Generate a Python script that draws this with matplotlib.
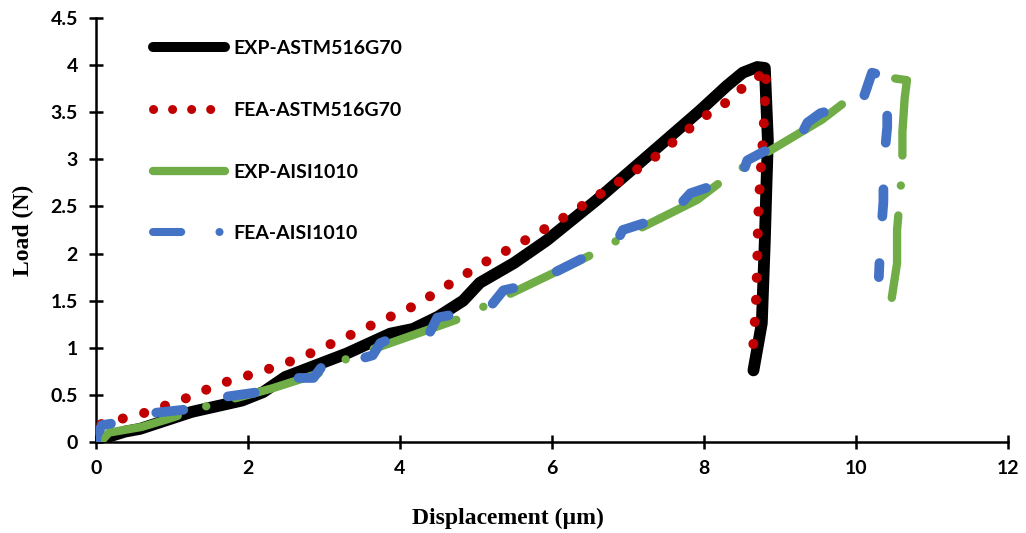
import numpy as np
import matplotlib as mpl
mpl.use("Agg")
import matplotlib.pyplot as plt
from matplotlib.lines import Line2D

# load-displacement curves (displacement in um, load in N)
exp_astm_x = [0.0, 0.1, 0.38, 0.58, 1.26, 1.92, 2.2, 2.49, 3.3, 3.87, 4.17,
              4.5, 4.83, 5.05, 5.5, 5.93, 6.59, 7.25, 7.95, 8.3, 8.51, 8.7,
              8.8, 8.84, 8.82, 8.8, 8.76, 8.65]
exp_astm_y = [0.0, 0.04, 0.11, 0.14, 0.32, 0.44, 0.53, 0.69, 0.94, 1.15, 1.2,
              1.33, 1.5, 1.69, 1.9, 2.14, 2.57, 3.03, 3.52, 3.78, 3.92, 3.98,
              3.97, 3.2, 2.7, 2.14, 1.26, 0.76]

fea_astm_x = [0.07, 0.64, 1.17, 1.64, 2.18, 2.68, 3.17, 3.68, 4.2, 4.66, 5.12,
              5.58, 6.07, 6.5, 6.93, 7.38, 7.99, 8.24, 8.38, 8.64, 8.82, 8.81,
              8.78, 8.74, 8.71, 8.7, 8.68, 8.64]
fea_astm_y = [0.19, 0.31, 0.46, 0.62, 0.75, 0.89, 1.07, 1.26, 1.45, 1.68, 1.91,
              2.11, 2.34, 2.56, 2.79, 3.04, 3.45, 3.56, 3.7, 3.81, 3.97, 3.74,
              3.28, 2.81, 2.36, 1.9, 1.43, 0.93]

exp_aisi_x = [0.0, 0.08, 0.17, 0.6, 0.97, 1.49, 2.32, 2.9, 3.34, 4.26, 4.75,
              5.21, 6.01, 6.55, 6.99, 7.91, 8.3, 8.78, 9.55, 9.89, 10.29, 10.5,
              10.67, 10.64, 10.61, 10.61, 10.54, 10.54, 10.47]
exp_aisi_y = [0.0, 0.02, 0.1, 0.16, 0.25, 0.39, 0.57, 0.72, 0.9, 1.16, 1.3,
              1.48, 1.79, 2.0, 2.2, 2.57, 2.81, 3.05, 3.42, 3.63, 3.82, 3.86,
              3.84, 3.65, 3.29, 2.92, 2.25, 1.9, 1.53]

fea_aisi_x = [0.0, 0.01, 0.08, 0.32, 0.78, 1.24, 1.7, 2.14, 2.59, 2.86, 2.99,
              3.51, 3.64, 3.74, 3.83, 4.39, 4.49, 4.68, 5.18, 5.36, 5.58, 6.01,
              6.43, 6.86, 6.93, 7.2, 7.64, 7.82, 8.04, 8.5, 8.57, 8.78, 9.26,
              9.36, 9.53, 10.08, 10.21, 10.3, 10.41, 10.41, 10.36, 10.36,
              10.32, 10.3]
fea_aisi_y = [0.0, 0.07, 0.18, 0.21, 0.31, 0.35, 0.48, 0.53, 0.68, 0.68, 0.82,
              0.89, 0.92, 1.05, 1.08, 1.16, 1.32, 1.35, 1.43, 1.61, 1.65, 1.79,
              1.96, 2.14, 2.25, 2.32, 2.48, 2.64, 2.7, 2.83, 2.99, 3.08, 3.23,
              3.39, 3.49, 3.61, 3.92, 3.9, 3.72, 3.34, 2.92, 2.55, 2.12, 1.75]

labels = ['EXP-ASTM516G70', 'FEA-ASTM516G70', 'EXP-AISI1010', 'FEA-AISI1010']

x_ticks = [0, 2, 4, 6, 8, 10, 12]
y_ticks = [0, 0.5, 1, 1.5, 2, 2.5, 3, 3.5, 4, 4.5]
y_tick_labels = ['0', '0.5', '1', '1.5', '2', '2.5', '3', '3.5', '4', '4.5']

black = '#000000'
red = '#C00000'
green = '#70AD47'
blue = '#4472C4'

tick_font = {'family': 'Lato', 'weight': 'bold', 'size': 14}
label_font = {'family': 'Liberation Serif', 'weight': 'bold', 'size': 17}

fig = plt.figure(figsize=(10.26, 5.33), dpi=100)
ax = fig.add_axes([0.0936, 0.1707, 0.8889, 0.7955])

ax.plot(exp_astm_x, exp_astm_y, color=black, lw=8.5,
        solid_capstyle='round', solid_joinstyle='round', zorder=2)
ax.plot(fea_astm_x, fea_astm_y, color=red, lw=7.2,
        linestyle=(0, (0.01, 2.2)), dash_capstyle='round', zorder=3)
ax.plot(exp_aisi_x, exp_aisi_y, color=green, lw=6.0,
        linestyle=(0, (10.5, 3.6, 0.01, 3.6)), dash_capstyle='round',
        dash_joinstyle='round', zorder=4)
ax.plot(fea_aisi_x, fea_aisi_y, color=blue, lw=7.0,
        linestyle=(0, (2.8, 4.8)), dash_capstyle='round',
        dash_joinstyle='round', zorder=5)

ax.set_xlim(0, 12)
ax.set_ylim(0, 4.5)
ax.set_xticks(x_ticks)
ax.set_xticklabels([str(t) for t in x_ticks], fontdict=tick_font)
ax.set_yticks(y_ticks)
ax.set_yticklabels(y_tick_labels, fontdict=tick_font)

for side in ['top', 'right']:
    ax.spines[side].set_visible(False)
for side in ['left', 'bottom']:
    ax.spines[side].set_linewidth(1.8)
ax.tick_params(direction='inout', length=10, width=1.8)
ax.tick_params(axis='x', pad=8)
ax.tick_params(axis='y', pad=8)

ax.set_xlabel('Displacement (µm)', fontdict=label_font)
ax.set_ylabel('Load (N)', fontdict=label_font)
ax.xaxis.set_label_coords(0.452, -0.155)
ax.yaxis.set_label_coords(-0.068, 0.5)

# legend handles drawn separately so the sample strokes look right
handles = [
    Line2D([], [], color=black, lw=7.2, solid_capstyle='round'),
    Line2D([], [], color=red, lw=6.5, linestyle=(0, (0.01, 2.1)),
           dash_capstyle='round'),
    Line2D([], [], color=green, lw=6.0, solid_capstyle='round'),
    Line2D([], [], color=blue, lw=5.8, linestyle=(0, (3.5, 4.75, 0.01, 4.75)),
           dash_capstyle='round'),
]
ax.legend(handles, labels, loc='upper left', bbox_to_anchor=(0.062, 0.948),
          frameon=False, prop={'family': 'Lato', 'weight': 'bold', 'size': 14},
          handlelength=3.75, handletextpad=0.4, labelspacing=2.3,
          borderpad=0, borderaxespad=0)

fig.savefig('out.png', dpi=100)
